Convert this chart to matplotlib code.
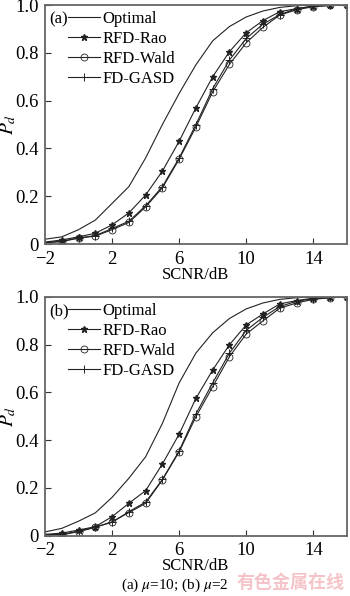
import matplotlib
matplotlib.use("Agg")
import matplotlib.pyplot as plt

plt.rcParams['font.family'] = ['Liberation Serif', 'DejaVu Serif']
plt.rcParams['mathtext.fontset'] = 'stix'
plt.rcParams['font.size'] = 11.5

scnr = [-2, -1, 0, 1, 2, 3, 4, 5, 6, 7, 8, 9, 10, 11, 12, 13, 14, 15, 16]

# (a) mu = 10
opt_a = [0.02, 0.03, 0.06, 0.10, 0.17, 0.24, 0.36, 0.50, 0.63, 0.75, 0.85, 0.91, 0.95, 0.975, 0.99, 0.997, 1.0, 1.0, 1.0]
rao_a = [0.008, 0.017, 0.03, 0.045, 0.08, 0.13, 0.205, 0.305, 0.43, 0.57, 0.70, 0.805, 0.884, 0.935, 0.972, 0.985, 0.995, 0.998, 1.0]
wald_a = [0.005, 0.01, 0.025, 0.033, 0.06, 0.09, 0.155, 0.235, 0.355, 0.49, 0.637, 0.752, 0.842, 0.907, 0.958, 0.98, 0.993, 0.998, 1.0]
gasd_a = [0.006, 0.012, 0.025, 0.035, 0.065, 0.095, 0.16, 0.24, 0.36, 0.50, 0.65, 0.77, 0.86, 0.92, 0.96, 0.985, 0.995, 1.0, 1.0]

# (b) mu = 2
opt_b = [0.015, 0.03, 0.06, 0.095, 0.16, 0.24, 0.33, 0.47, 0.64, 0.765, 0.85, 0.91, 0.95, 0.975, 0.99, 0.997, 1.0, 1.0, 1.0]
rao_b = [0.005, 0.01, 0.023, 0.037, 0.079, 0.135, 0.188, 0.30, 0.425, 0.575, 0.694, 0.80, 0.883, 0.929, 0.971, 0.985, 0.995, 0.998, 1.0]
wald_b = [0.002, 0.003, 0.016, 0.034, 0.058, 0.096, 0.135, 0.233, 0.351, 0.498, 0.624, 0.75, 0.845, 0.90, 0.953, 0.975, 0.99, 0.997, 1.0]
gasd_b = [0.003, 0.005, 0.018, 0.036, 0.055, 0.10, 0.14, 0.235, 0.355, 0.51, 0.64, 0.765, 0.86, 0.915, 0.96, 0.982, 0.993, 0.998, 1.0]

labels = ["Optimal", "RFD-Rao", "RFD-Wald", "FD-GASD"]
panels = [("(a)", [opt_a, rao_a, wald_a, gasd_a]),
          ("(b)", [opt_b, rao_b, wald_b, gasd_b])]

fig = plt.figure(figsize=(3.5, 5.96), dpi=100)
boxes = [[0.1286, 0.5906, 0.8624, 0.401],
         [0.1286, 0.1015, 0.8624, 0.4002]]

styles = [dict(marker=None),
          dict(marker='*', markersize=4.5),
          dict(marker='o', markersize=5, markerfacecolor='none', markeredgewidth=0.6),
          dict(marker='+', markersize=6, markeredgewidth=0.7)]

for box, (tag, series) in zip(boxes, panels):
    ax = fig.add_axes(box)
    for lab, ys, st in zip(labels, series, styles):
        ax.plot(scnr, ys, color='#222222', lw=0.8, label=lab,
                markevery=slice(1, None), **st)
    ax.set_xlim(-2, 16)
    ax.set_ylim(0, 1.0)
    ax.set_xticks([-2, 2, 6, 10, 14])
    ax.set_xticklabels(['\u22122', '2', '6', '10', '14'])
    ax.set_yticks([0, 0.2, 0.4, 0.6, 0.8, 1.0])
    ax.set_yticklabels(['0', '0.2', '0.4', '0.6', '0.8', '1.0'])
    ax.tick_params(direction='in', length=4, width=0.8, colors='#333333',
                   labelcolor='black', labelsize=13.5)
    ax.tick_params(axis='x', pad=5)
    ax.tick_params(axis='y', pad=4.5)
    for sp in ax.spines.values():
        sp.set_color('#666666')
        sp.set_linewidth(1.3)
    ax.set_xlabel('SCNR/dB', fontsize=12, labelpad=-1)
    ax.set_ylabel(r'$P_{d}$', fontsize=14)
    ax.yaxis.set_label_coords(-0.088, 0.5)
    ax.text(0.013, 0.975, tag, transform=ax.transAxes, ha='left', va='top',
            fontsize=12)
    ax.legend(loc='upper left', bbox_to_anchor=(0.037, 1.025), frameon=False,
              fontsize=12, handlelength=1.9, handletextpad=0.2,
              labelspacing=0.25, borderaxespad=0.3)

fig.text(0.5, 0.004, r'(a) $\mu$=10; (b) $\mu$=2', ha='center', va='bottom', fontsize=11)
fig.text(0.985, 0.006, '有色金属在线', ha='right', va='bottom', fontsize=13,
         color='#f5c4c8', family=['Noto Sans CJK SC', 'DejaVu Sans'], fontweight='bold')

fig.savefig('out.png', dpi=100)
